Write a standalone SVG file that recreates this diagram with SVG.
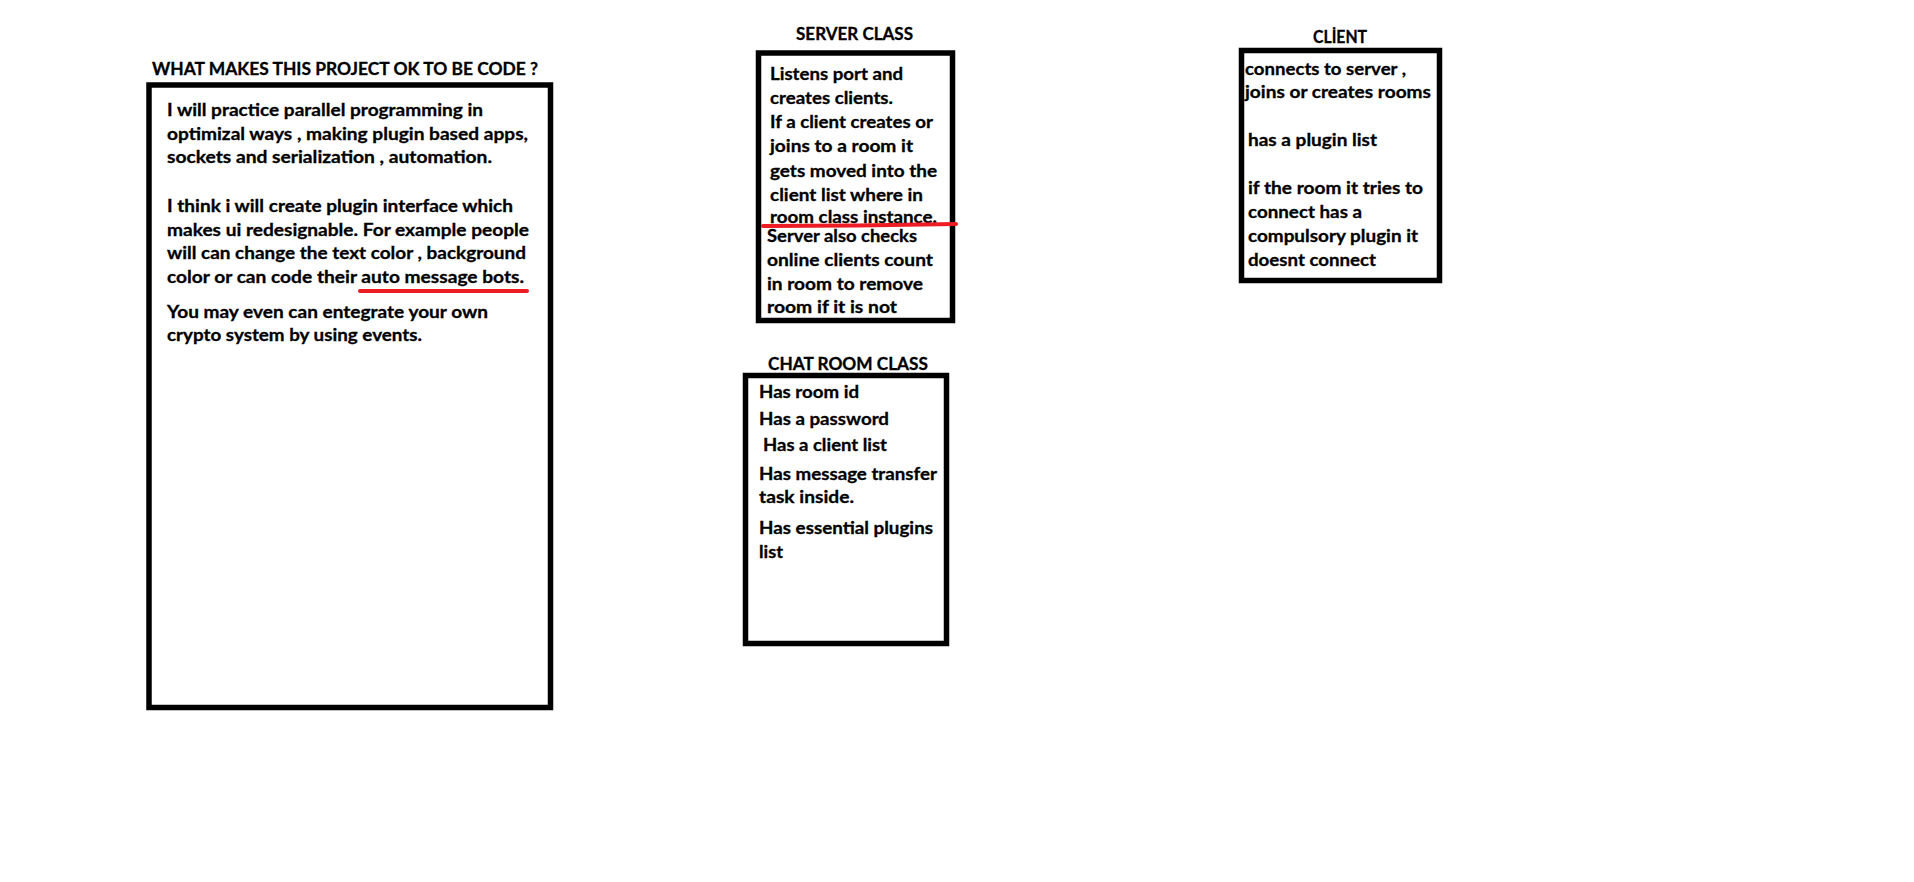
<svg xmlns="http://www.w3.org/2000/svg" width="1914" height="882" viewBox="0 0 1914 882">
<style>
.box{fill:#fff;stroke:#000;stroke-width:5.5}
.t{font-family:Lato,"Open Sans","Liberation Sans",sans-serif;font-weight:bold;font-size:17.3px;fill:#000;stroke:#000;stroke-width:0.3}
.red{stroke:#ED1C24;stroke-width:4;stroke-linecap:round;fill:none}
</style>
<rect width="1914" height="882" fill="#fff"/>
<g id="project-note">
<text class="t" x="152" y="75" textLength="386" lengthAdjust="spacingAndGlyphs">WHAT MAKES THIS PROJECT OK TO BE CODE ?</text>
<rect class="box" x="149" y="85" width="401.5" height="622.5"/>
<text class="t" x="167" y="116" textLength="316" lengthAdjust="spacingAndGlyphs">I will practice parallel programming in</text>
<text class="t" x="167" y="140" textLength="361" lengthAdjust="spacingAndGlyphs">optimizal ways , making plugin based apps,</text>
<text class="t" x="167" y="163" textLength="325" lengthAdjust="spacingAndGlyphs">sockets and serialization , automation.</text>
<text class="t" x="167" y="212" textLength="346" lengthAdjust="spacingAndGlyphs">I think i will create plugin interface which</text>
<text class="t" x="167" y="236" textLength="362" lengthAdjust="spacingAndGlyphs">makes ui redesignable. For example people</text>
<text class="t" x="167" y="259" textLength="359" lengthAdjust="spacingAndGlyphs">will can change the text color , background</text>
<text class="t" x="167" y="283" textLength="357" lengthAdjust="spacingAndGlyphs">color or can code their auto message bots.</text>
<line class="red" x1="360" y1="291" x2="527" y2="291"/>
<text class="t" x="167" y="318" textLength="321" lengthAdjust="spacingAndGlyphs">You may even can entegrate your own</text>
<text class="t" x="167" y="341" textLength="255" lengthAdjust="spacingAndGlyphs">crypto system by using events.</text>
</g>
<g id="server-class">
<text class="t" x="796" y="40" textLength="117" lengthAdjust="spacingAndGlyphs">SERVER CLASS</text>
<rect class="box" x="758.5" y="53" width="194" height="267.5"/>
<text class="t" x="770" y="80" textLength="133" lengthAdjust="spacingAndGlyphs">Listens port and</text>
<text class="t" x="770" y="104" textLength="123" lengthAdjust="spacingAndGlyphs">creates clients.</text>
<text class="t" x="770" y="128" textLength="163" lengthAdjust="spacingAndGlyphs">If a client creates or</text>
<text class="t" x="770" y="152" textLength="143" lengthAdjust="spacingAndGlyphs">joins to a room it</text>
<text class="t" x="770" y="177" textLength="167" lengthAdjust="spacingAndGlyphs">gets moved into the</text>
<text class="t" x="770" y="201" textLength="153" lengthAdjust="spacingAndGlyphs">client list where in</text>
<text class="t" x="770" y="223" textLength="167" lengthAdjust="spacingAndGlyphs">room class instance.</text>
<polyline class="red" points="763,226 858,225.5 956,224"/>
<text class="t" x="767" y="242" textLength="150" lengthAdjust="spacingAndGlyphs">Server also checks</text>
<text class="t" x="767" y="266" textLength="166" lengthAdjust="spacingAndGlyphs">online clients count</text>
<text class="t" x="767" y="290" textLength="156" lengthAdjust="spacingAndGlyphs">in room to remove</text>
<text class="t" x="767" y="313" textLength="130" lengthAdjust="spacingAndGlyphs">room if it is not</text>
</g>
<g id="chat-room-class">
<text class="t" x="768" y="370" textLength="160" lengthAdjust="spacingAndGlyphs">CHAT ROOM CLASS</text>
<rect class="box" x="745.5" y="375.5" width="201" height="268"/>
<text class="t" x="759" y="398" textLength="100" lengthAdjust="spacingAndGlyphs">Has room id</text>
<text class="t" x="759" y="425" textLength="130" lengthAdjust="spacingAndGlyphs">Has a password</text>
<text class="t" x="763" y="451" textLength="124" lengthAdjust="spacingAndGlyphs">Has a client list</text>
<text class="t" x="759" y="480" textLength="178" lengthAdjust="spacingAndGlyphs">Has message transfer</text>
<text class="t" x="759" y="503" textLength="95" lengthAdjust="spacingAndGlyphs">task inside.</text>
<text class="t" x="759" y="534" textLength="174" lengthAdjust="spacingAndGlyphs">Has essential plugins</text>
<text class="t" x="759" y="558" textLength="24" lengthAdjust="spacingAndGlyphs">list</text>
</g>
<g id="client">
<text class="t" x="1313" y="43" textLength="54" lengthAdjust="spacingAndGlyphs">CLİENT</text>
<rect class="box" x="1241.5" y="50.5" width="198" height="230"/>
<text class="t" x="1245" y="75" textLength="161" lengthAdjust="spacingAndGlyphs">connects to server ,</text>
<text class="t" x="1245" y="98" textLength="186" lengthAdjust="spacingAndGlyphs">joins or creates rooms</text>
<text class="t" x="1248" y="146" textLength="129" lengthAdjust="spacingAndGlyphs">has a plugin list</text>
<text class="t" x="1248" y="194" textLength="175" lengthAdjust="spacingAndGlyphs">if the room it tries to</text>
<text class="t" x="1248" y="218" textLength="114" lengthAdjust="spacingAndGlyphs">connect has a</text>
<text class="t" x="1248" y="242" textLength="170" lengthAdjust="spacingAndGlyphs">compulsory plugin it</text>
<text class="t" x="1248" y="266" textLength="128" lengthAdjust="spacingAndGlyphs">doesnt connect</text>
</g>
<g id="connectors"></g>
</svg>
